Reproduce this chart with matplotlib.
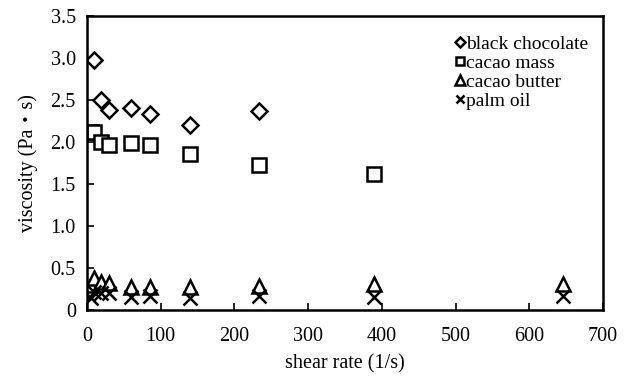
import matplotlib
matplotlib.use('Agg')
import matplotlib.pyplot as plt

plt.rcParams['font.family'] = ['Liberation Serif', 'Noto Sans CJK JP', 'DejaVu Serif']

# shear rate (1/s) and viscosity (Pa*s)
choc_x = [10, 19, 30, 60, 85, 140, 233]
choc_y = [2.98, 2.50, 2.38, 2.41, 2.33, 2.20, 2.37]
mass_x = [5, 10, 19, 30, 60, 85, 140, 233, 389]
mass_y = [2.12, 2.12, 2.00, 1.96, 1.99, 1.97, 1.86, 1.73, 1.62]
butter_x = [5, 10, 19, 30, 60, 85, 140, 233, 389, 646]
butter_y = [0.30, 0.38, 0.33, 0.32, 0.27, 0.28, 0.28, 0.29, 0.31, 0.31]
palm_x = [5, 10, 19, 30, 60, 85, 140, 233, 389, 646]
palm_y = [0.15, 0.22, 0.20, 0.20, 0.16, 0.17, 0.15, 0.17, 0.16, 0.17]

fig = plt.figure(figsize=(6.25, 3.81), dpi=100)
ax = fig.add_axes([0.139, 0.186, 0.826, 0.772])

kw = dict(linestyle='none', markerfacecolor='white', markeredgecolor='black',
          markeredgewidth=1.8, color='black', markersize=9.5)
ax.plot(choc_x, choc_y, marker='D', label='black chocolate', **dict(kw, markersize=8))
ax.plot(mass_x, mass_y, marker='s', label='cacao mass', **kw)
ax.plot(butter_x, butter_y, marker='^', label='cacao butter', **dict(kw, markersize=10.5))
ax.plot(palm_x, palm_y, marker='x', label='palm oil', **kw)

ax.set_xlim(0, 700)
ax.set_ylim(0, 3.5)
ax.set_xticks(range(0, 701, 100))
ax.set_yticks([0, 0.5, 1.0, 1.5, 2.0, 2.5, 3.0, 3.5])
ax.set_yticklabels(['0', '0.5', '1.0', '1.5', '2.0', '2.5', '3.0', '3.5'])
ax.tick_params(direction='in', length=5, width=1.2, labelsize=14.5)
ax.tick_params(axis='x', pad=12)
ax.tick_params(axis='y', pad=8)
for s in ax.spines.values():
    s.set_linewidth(1.8)

ax.set_xlabel('shear rate (1/s)', fontsize=14.5, labelpad=6)
ax.set_ylabel('viscosity (Pa\u30fbs)', fontsize=14.5, labelpad=9)

leg = ax.legend(loc='upper right', bbox_to_anchor=(1.005, 0.995), frameon=False,
                fontsize=14, handlelength=0.5, handletextpad=0.05,
                labelspacing=0.08, markerscale=0.65)

fig.savefig('out.png', dpi=100)
